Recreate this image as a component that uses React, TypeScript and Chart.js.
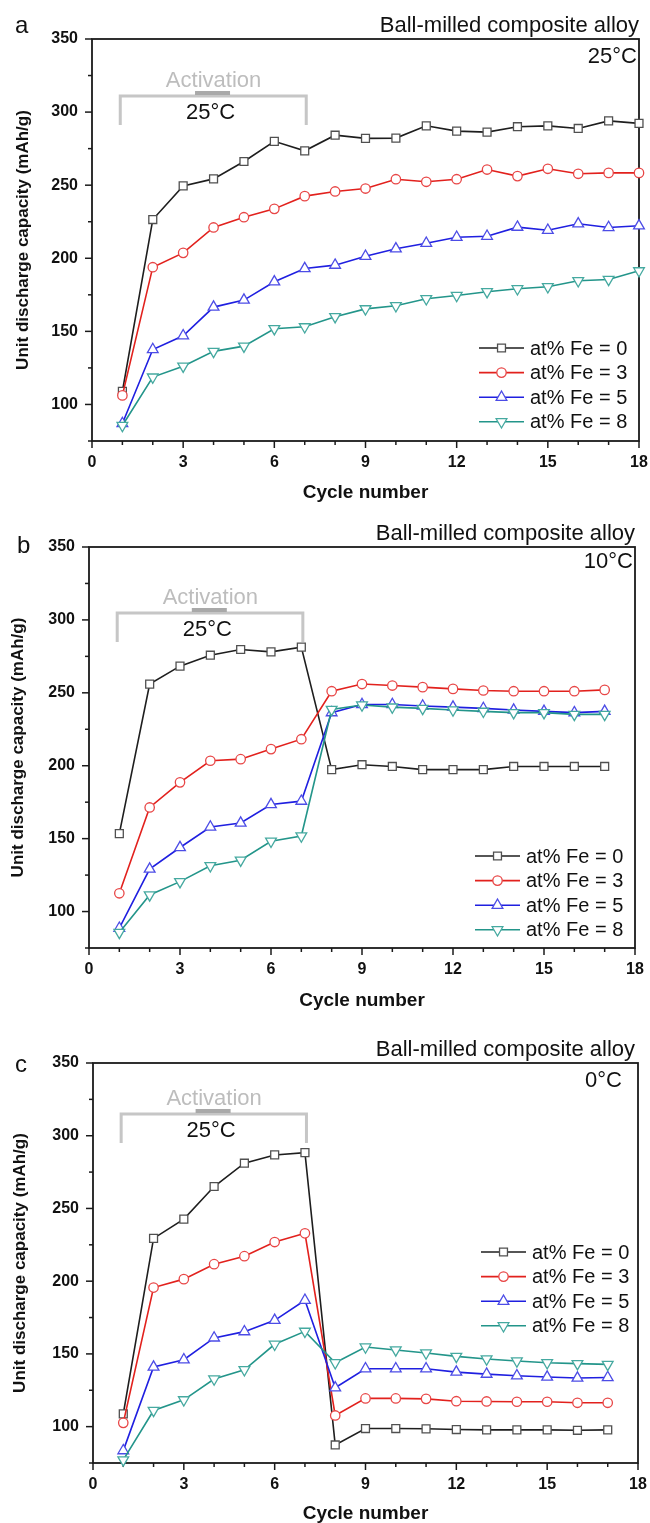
import React, { useEffect, useRef } from 'react';
import { Chart, registerables } from 'chart.js';
import { drawPoint } from 'chart.js/helpers';

Chart.register(...registerables);

// ---------------- data ----------------
const cyclesA = [1, 2, 3, 4, 5, 6, 7, 8, 9, 10, 11, 12, 13, 14, 15, 16, 17, 18];
const cyclesBC = [1, 2, 3, 4, 5, 6, 7, 8, 9, 10, 11, 12, 13, 14, 15, 16, 17];
const seriesLabels = ['at% Fe = 0', 'at% Fe = 3', 'at% Fe = 5', 'at% Fe = 8'];
const xTickLabels = [0, 3, 6, 9, 12, 15, 18];
const yTickLabels = [100, 150, 200, 250, 300, 350];

// panel a (25 °C)
const a25Fe0 = [109, 226.5, 249.5, 254.3, 266.2, 280, 273.5, 284.2, 282, 282.2, 290.6, 287, 286.3, 290, 290.6, 288.8, 294, 292.3];
const a25Fe3 = [106.2, 193.9, 203.7, 221.1, 228.1, 233.8, 242.5, 245.7, 247.7, 254.1, 252.3, 254.1, 260.7, 256.2, 261.2, 257.8, 258.4, 258.4];
const a25Fe5 = [87, 137.6, 147, 166.6, 171.4, 183.9, 193, 195.3, 201.4, 206.5, 210.3, 214.4, 215.1, 221.3, 219.2, 223.6, 221.1, 222.2];
const a25Fe8 = [85.6, 118.7, 126.2, 136.3, 139.9, 151.8, 153.1, 160, 165.4, 167.5, 172.3, 174.5, 177.1, 179.1, 180.5, 184.6, 185.5, 191.4];

// panel b (10 °C)
const b10Fe0 = [153.4, 256, 268.3, 275.8, 279.7, 278.1, 281.3, 197.3, 200.7, 199.5, 197.3, 197.3, 197.3, 199.5, 199.5, 199.5, 199.5];
const b10Fe3 = [112.5, 171.4, 188.6, 203.4, 204.5, 211.4, 218.2, 251.1, 256, 255, 253.9, 252.7, 251.6, 251.1, 251.1, 251.1, 252];
const b10Fe5 = [88.6, 129.1, 143.9, 158, 160.7, 173.4, 175.7, 236.4, 242, 242, 241, 240.2, 239.3, 238.2, 237.3, 236.4, 237.3];
const b10Fe8 = [85.7, 111.4, 120.5, 131.4, 135.2, 148.2, 151.8, 238.6, 241.6, 240.2, 239.3, 238.2, 237.3, 236.4, 236.4, 235.2, 235.2];

// panel c (0 °C)
const c0Fe0 = [108.8, 229.4, 242.7, 265.1, 281.1, 286.8, 288.4, 87.4, 98.7, 98.7, 98.5, 98, 97.8, 97.8, 97.8, 97.5, 97.8];
const c0Fe3 = [102.6, 195.6, 201.4, 211.7, 217.2, 226.9, 232.9, 107.7, 119.4, 119.4, 119.1, 117.5, 117.3, 117.1, 117.1, 116.4, 116.4];
const c0Fe5 = [83.5, 141, 146, 161, 165.3, 173.1, 186.9, 126.7, 139.8, 139.8, 139.8, 137.5, 136.1, 135, 134.1, 133.4, 133.8];
const c0Fe8 = [77.1, 111.1, 118.4, 132.7, 139.1, 156.6, 165.5, 143.9, 154.7, 152.7, 150.6, 148.3, 146.5, 145.1, 143.9, 143.3, 142.8];

// ---------------- styles ----------------
const FONT = '"Liberation Sans", Arial, Helvetica, sans-serif';
const seriesStyles = [
  { line: '#1e1e1e', point: '#505050', style: 'rect', radius: 5.6, rotation: 0 },
  { line: '#e2211d', point: '#e84646', style: 'circle', radius: 4.7, rotation: 0 },
  { line: '#1f1fe0', point: '#4c4ce6', style: 'triangle', radius: 6.2, rotation: 0 },
  { line: '#23958a', point: '#45a9a0', style: 'triangle', radius: 6.2, rotation: 180 },
];

type Panel = {
  key: string;
  letter: string;
  temp: string;
  top: number;
  height: number;
  plotTop: number;
  plotBottom: number;
  plotLeft: number;
  plotRight: number;
  cycles: number[];
  series: number[][];
  letterPos: { x: number; y: number };
  tempRight: number;
  tempY: number;
  headerRight: number;
  bracketY: number;
  legend: { x: number; y: number };
  yTitleX: number;
  xTitleY: number;
};

const panels: Panel[] = [
  {
    key: 'a', letter: 'a', temp: '25°C', top: 0, height: 505,
    plotTop: 39, plotBottom: 441, plotLeft: 92, plotRight: 639,
    cycles: cyclesA, series: [a25Fe0, a25Fe3, a25Fe5, a25Fe8],
    letterPos: { x: 15, y: 33 }, tempRight: 637, tempY: 63, headerRight: 639,
    bracketY: 96, legend: { x: 479, y: 348 }, yTitleX: 23, xTitleY: 493,
  },
  {
    key: 'b', letter: 'b', temp: '10°C', top: 505, height: 510,
    plotTop: 42, plotBottom: 443, plotLeft: 89, plotRight: 635,
    cycles: cyclesBC, series: [b10Fe0, b10Fe3, b10Fe5, b10Fe8],
    letterPos: { x: 17, y: 48 }, tempRight: 633, tempY: 63, headerRight: 635,
    bracketY: 108, legend: { x: 475, y: 351 }, yTitleX: 18, xTitleY: 496,
  },
  {
    key: 'c', letter: 'c', temp: '0°C', top: 1015, height: 508,
    plotTop: 48, plotBottom: 448, plotLeft: 93, plotRight: 638,
    cycles: cyclesBC, series: [c0Fe0, c0Fe3, c0Fe5, c0Fe8],
    letterPos: { x: 15, y: 57 }, tempRight: 622, tempY: 72, headerRight: 635,
    bracketY: 99, legend: { x: 481, y: 237 }, yTitleX: 20, xTitleY: 499,
  },
];

function makeDecor(p: Panel) {
  const line = (ctx: CanvasRenderingContext2D, x1: number, y1: number, x2: number, y2: number) => {
    ctx.beginPath();
    ctx.moveTo(x1, y1);
    ctx.lineTo(x2, y2);
    ctx.stroke();
  };
  return {
    id: 'decor_' + p.key,
    beforeDatasetsDraw(chart: any) {
      const { ctx, chartArea, scales } = chart;
      const { left, right, top, bottom } = chartArea;
      const x = scales.x;
      const y = scales.y;
      ctx.save();
      // activation bracket
      const bx1 = x.getPixelForValue(0.93);
      const bx2 = x.getPixelForValue(7.05);
      const by = p.bracketY;
      ctx.strokeStyle = '#c6c6c6';
      ctx.lineWidth = 3;
      ctx.beginPath();
      ctx.moveTo(bx1, by + 29);
      ctx.lineTo(bx1, by);
      ctx.lineTo(bx2, by);
      ctx.lineTo(bx2, by + 29);
      ctx.stroke();
      const bc = x.getPixelForValue(3.95);
      ctx.fillStyle = '#a9a9a9';
      ctx.fillRect(bc - 17, by - 5, 35, 4);
      ctx.font = `22px ${FONT}`;
      ctx.textAlign = 'center';
      ctx.textBaseline = 'alphabetic';
      ctx.fillStyle = '#bdbdbd';
      ctx.fillText('Activation', x.getPixelForValue(4.0), by - 9);
      ctx.fillStyle = '#111';
      ctx.fillText('25°C', x.getPixelForValue(3.9), by + 23);

      // frame
      ctx.strokeStyle = '#1a1a1a';
      ctx.lineWidth = 1.8;
      ctx.strokeRect(left, top, right - left, bottom - top);
      // ticks
      ctx.lineWidth = 1.5;
      x.ticks.forEach((t: any) => {
        const px = x.getPixelForValue(t.value);
        const len = xTickLabels.includes(t.value) ? 7 : 4;
        line(ctx, px, bottom, px, bottom + len);
      });
      y.ticks.forEach((t: any) => {
        const py = y.getPixelForValue(t.value);
        const len = yTickLabels.includes(t.value) ? 7 : 4;
        line(ctx, left - len, py, left, py);
      });
      ctx.restore();
    },
    afterDatasetsDraw(chart: any) {
      const { ctx } = chart;
      ctx.save();
      // panel letter
      ctx.fillStyle = '#111';
      ctx.textBaseline = 'alphabetic';
      ctx.textAlign = 'left';
      ctx.font = `24px ${FONT}`;
      ctx.fillText(p.letter, p.letterPos.x, p.letterPos.y);
      // header
      ctx.textAlign = 'right';
      ctx.font = `22px ${FONT}`;
      ctx.fillText('Ball-milled composite alloy', p.headerRight, p.plotTop - 7);
      ctx.fillText(p.temp, p.tempRight, p.tempY);
      // legend
      const step = 24.6;
      chart.data.datasets.forEach((ds: any, i: number) => {
        const yy = p.legend.y + i * step;
        const lx = p.legend.x;
        ctx.strokeStyle = ds.borderColor;
        ctx.lineWidth = 1.6;
        line(ctx, lx, yy, lx + 45, yy);
        ctx.fillStyle = '#fff';
        ctx.strokeStyle = ds.pointBorderColor;
        ctx.lineWidth = 1.3;
        drawPoint(ctx, { pointStyle: ds.pointStyle, rotation: ds.pointRotation, radius: ds.pointRadius, borderWidth: 1.3 } as any, lx + 22.5, yy);
        ctx.fillStyle = '#111';
        ctx.font = `20px ${FONT}`;
        ctx.textAlign = 'left';
        ctx.textBaseline = 'middle';
        ctx.fillText(ds.label, lx + 51, yy + 1);
      });
      ctx.restore();
    },
  };
}

function PanelChart({ p }: { p: Panel }) {
  const ref = useRef<HTMLCanvasElement | null>(null);
  useEffect(() => {
    if (!ref.current) return;
    const datasets = p.series.map((vals, i) => {
      const s = seriesStyles[i];
      return {
        label: seriesLabels[i],
        data: p.cycles.map((c, j) => ({ x: c, y: vals[j] })),
        borderColor: s.line,
        borderWidth: 1.6,
        pointStyle: s.style,
        pointRadius: s.radius,
        pointRotation: s.rotation,
        pointBorderColor: s.point,
        pointBackgroundColor: '#ffffff',
        pointBorderWidth: 1.3,
        tension: 0,
        clip: false,
        order: 3 - i,
      };
    });
    const xTitleSize = 19;
    const yTitleSize = 17;
    const chart = new Chart(ref.current, {
      type: 'line',
      data: { datasets } as any,
      plugins: [makeDecor(p)],
      options: {
        responsive: false,
        animation: false,
        devicePixelRatio: 1,
        layout: { padding: { top: p.plotTop, right: 650 - p.plotRight, left: 0, bottom: 0 } },
        plugins: { legend: { display: false }, tooltip: { enabled: false }, title: { display: false } },
        scales: {
          x: {
            type: 'linear',
            min: 0,
            max: 18,
            ticks: {
              stepSize: 1,
              autoSkip: false,
              maxRotation: 0,
              padding: 11.5,
              color: '#111',
              font: { family: FONT, size: 16, weight: 'bold' },
              callback: (v: any) => (xTickLabels.includes(Number(v)) ? String(v) : ''),
            },
            grid: { display: false, drawTicks: false },
            border: { display: false },
            title: {
              display: true,
              text: 'Cycle number',
              color: '#111',
              font: { family: FONT, size: xTitleSize, weight: 'bold' },
              padding: { top: 0, bottom: p.height - p.xTitleY - (xTitleSize * 1.2) / 2 },
            },
            afterFit: (s: any) => {
              s.height = p.height - p.plotBottom;
              s.paddingLeft = 0;
              s.paddingRight = 0;
            },
          },
          y: {
            type: 'linear',
            min: 75,
            max: 350,
            ticks: {
              stepSize: 25,
              autoSkip: false,
              padding: 14,
              color: '#111',
              font: { family: FONT, size: 16, weight: 'bold' },
              callback: (v: any) => (yTickLabels.includes(Number(v)) ? String(v) : ''),
            },
            grid: { display: false, drawTicks: false },
            border: { display: false },
            title: {
              display: true,
              text: 'Unit discharge capacity (mAh/g)',
              color: '#111',
              font: { family: FONT, size: yTitleSize, weight: 'bold' },
              padding: { top: p.yTitleX - (yTitleSize * 1.2) / 2, bottom: 0 },
            },
            afterFit: (s: any) => {
              s.width = p.plotLeft;
              s.paddingTop = 0;
              s.paddingBottom = 0;
            },
          },
        },
      } as any,
    });
    return () => chart.destroy();
  }, [p]);
  return (
    <canvas
      ref={ref}
      width={650}
      height={p.height}
      style={{ position: 'absolute', left: 0, top: p.top, width: 650, height: p.height, display: 'block' }}
    />
  );
}

export default function App() {
  return (
    <div style={{ position: 'absolute', left: 0, top: 0, width: 650, height: 1523, background: '#ffffff', overflow: 'hidden' }}>
      {panels.map((p) => (
        <PanelChart key={p.key} p={p} />
      ))}
    </div>
  );
}
